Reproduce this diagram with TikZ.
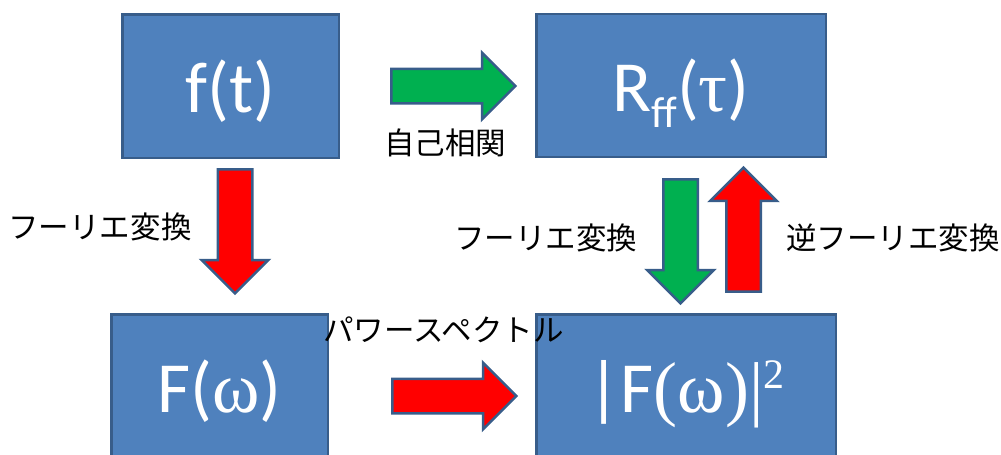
\documentclass[tikz,border=0pt]{standalone}
\usepackage{fontspec}
\setmainfont{Carlito}
\newfontfamily\serifgr{Liberation Serif}
\newfontfamily\jpfont{Noto Sans CJK JP}
\usetikzlibrary{shapes.arrows}
\definecolor{boxblue}{HTML}{4F81BD}
\definecolor{edgeblue}{HTML}{385D8A}
\definecolor{arrgreen}{HTML}{00B050}
\definecolor{arrred}{HTML}{FF0000}

\begin{document}
\begin{tikzpicture}[x=1pt,y=-1pt,
	box/.style={rectangle,draw=edgeblue,fill=boxblue,line width=2.5pt,inner sep=0pt,text=white,
		font=\fontsize{72}{72}\selectfont,text height=52pt,text depth=0pt},
	blockarrow/.style={single arrow,draw=edgeblue,line width=2.5pt,inner sep=0pt,inner ysep=16pt,
		single arrow head extend=16pt,single arrow head indent=0pt,minimum height=124pt,anchor=tail},
	lbl/.style={font=\jpfont\fontsize{30.5}{30.5}\selectfont,inner sep=0pt}]
	\useasboundingbox (0,0) rectangle (1001,455);
	\clip (0,0) rectangle (1001,455);	%bottom boxes run off the page
	
	%the four boxes
	\node[box,minimum width=216.5pt,minimum height=143.5pt] (ft) at (230.5,86) {f(t)};
	\node[box,minimum width=289.5pt,minimum height=143pt] (rff) at (681,85.5)
		{R\raisebox{-16pt}{\fontsize{44}{44}\selectfont ff}({\serifgr τ})};
	\node[box,minimum width=216.5pt,minimum height=143.5pt] (Fw) at (219.5,386) {F({\serifgr ω})};
	\node[box,minimum width=299.5pt,minimum height=143.5pt] (Fwsq) at (686,386)
		{|F{\serifgr (ω)|}\raisebox{24pt}{\serifgr\fontsize{42}{42}\selectfont 2}};
	
	%block arrows (placed by their tails)
	\node[blockarrow,fill=arrgreen] (acorr) at (390.2,86) {};
	\node[blockarrow,fill=arrred,rotate=-90] (ftdown) at (235,168.2) {};
	\node[blockarrow,fill=arrgreen,rotate=-90] (rdown) at (680.5,178.2) {};
	\node[blockarrow,fill=arrred,rotate=90] (invup) at (743.5,292.8) {};
	\node[blockarrow,fill=arrred] (power) at (391.2,396) {};
	
	%labels
	\node[lbl] (lacorr) at (445,143) {自己相関};
	\node[lbl] (lft) at (100,227) {フーリエ変換};
	\node[lbl] (lrft) at (545.5,238) {フーリエ変換};
	\node[lbl] (linv) at (893,238) {逆フーリエ変換};
	\node[lbl] (lpow) at (443.5,330) {パワースペクトル};
\end{tikzpicture}
\end{document}
